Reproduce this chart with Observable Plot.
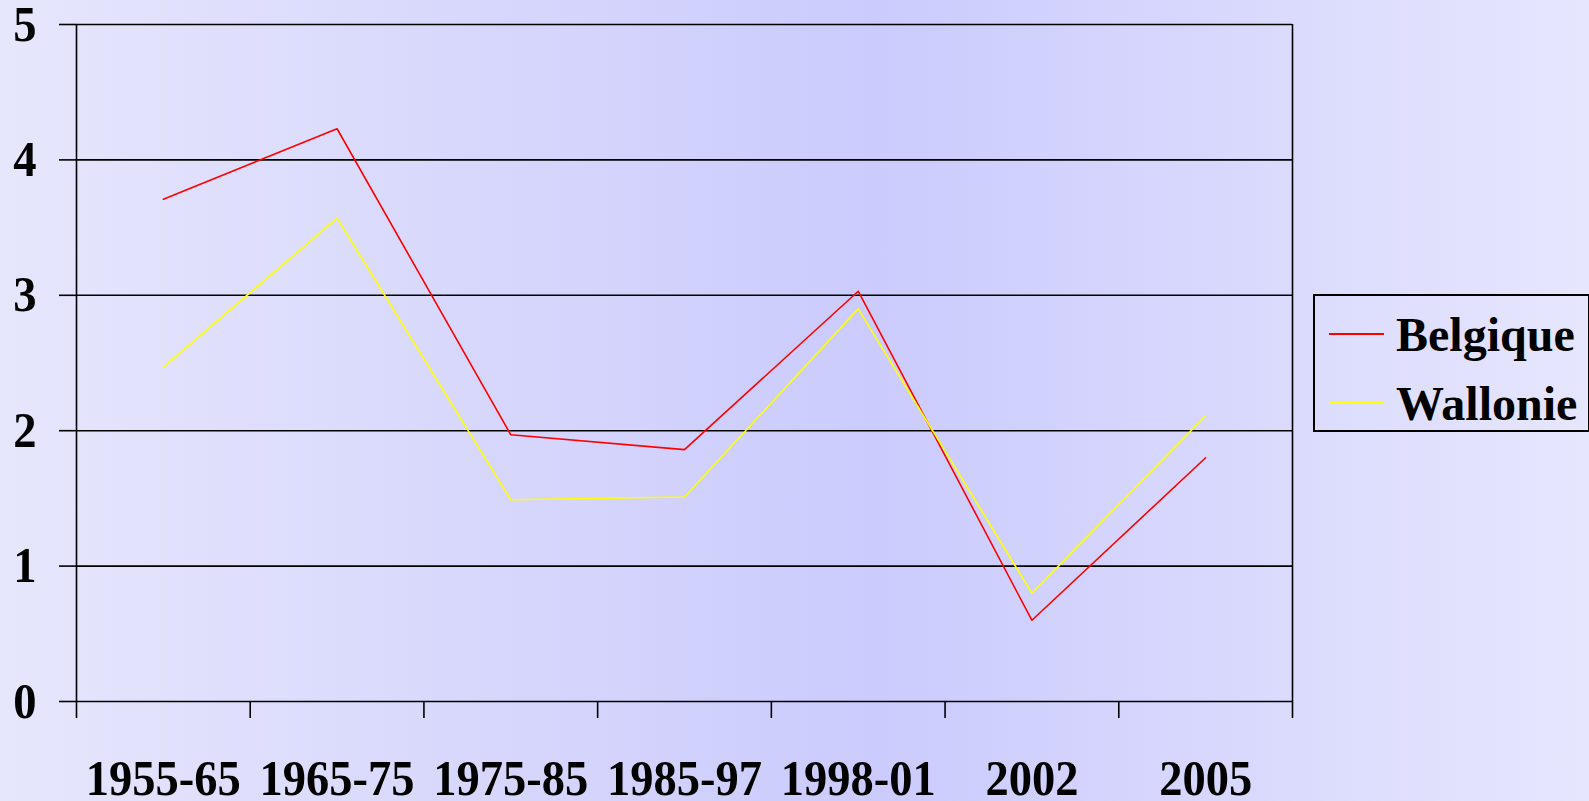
<!DOCTYPE html>
<html>
<head>
<meta charset="utf-8">
<script src="https://cdn.jsdelivr.net/npm/d3@7"></script>
<script src="https://cdn.jsdelivr.net/npm/@observablehq/plot@0.6"></script>
<style>
  html, body { margin: 0; padding: 0; }
  body {
    width: 1589px; height: 801px; overflow: hidden; position: relative;
    background: linear-gradient(to right, #e6e6fc 0%, #cbcbfd 55%, #e6e6fe 100%);
    font-family: "Liberation Serif", "Times New Roman", serif;
  }
  #chart { position: absolute; left: 0; top: 0; }
  #legend {
    position: absolute; left: 1313px; top: 294px; width: 273px; height: 134px;
    border: 2px solid #000; box-sizing: content-box;
    font-weight: bold; font-size: 48px; color: #000;
  }
  .row { position: absolute; left: 0; height: 60px; display: flex; align-items: center; }
  .sw { width: 55px; height: 2px; margin-left: 14px; margin-right: 12px; }
</style>
</head>
<body>
<div id="chart"></div>
<div id="legend"></div>
<script>
const categories = ["1955-65", "1965-75", "1975-85", "1985-97", "1998-01", "2002", "2005"];
const belgique = [3.71, 4.23, 1.97, 1.86, 3.03, 0.60, 1.80];
const wallonie = [2.47, 3.57, 1.49, 1.51, 2.90, 0.80, 2.11];
const yTicks = [0, 1, 2, 3, 4, 5];
const seriesNames = ["Belgique", "Wallonie"];
const seriesColors = ["#ff0000", "#ffff00"];

const seriesValues = [belgique, wallonie];
const rows = seriesNames.flatMap((name, s) =>
  seriesValues[s].map((v, i) => ({series: name, color: seriesColors[s], i, value: v})));
const n = categories.length;
const boundaries = d3.range(n + 1).map(k => k - 0.5);
const indices = d3.range(n);

const plot = Plot.plot({
  width: 1589,
  height: 801,
  marginLeft: 76,
  marginRight: 297,
  marginTop: 24,
  marginBottom: 100,
  x: {type: "linear", domain: [-0.5, n - 0.5]},
  y: {domain: [0, 5]},
  style: {
    background: "transparent",
    fontFamily: '"Liberation Serif", "Times New Roman", serif',
    fontWeight: "bold",
    fontSize: "50px",
    color: "#000"
  },
  marks: [
    Plot.gridY(yTicks, {stroke: "#000", strokeOpacity: 1, strokeWidth: 1.6}),
    Plot.ruleX([-0.5, n - 0.5], {stroke: "#000", strokeWidth: 1.6}),
    Plot.axisY(yTicks, {tickSize: 17, tickPadding: 23, stroke: "#000", strokeWidth: 1.6,
      fontSize: 50, tickFormat: d => String(d), label: null}),
    Plot.axisX(boundaries, {tickSize: 17, stroke: "#000", strokeWidth: 1.6,
      tickFormat: () => "", label: null}),
    Plot.axisX(indices, {tickSize: 0, tickPadding: 58, fontSize: 50,
      tickFormat: i => categories[i], label: null}),
    Plot.line(rows.filter(d => d.series === seriesNames[0]),
      {x: "i", y: "value", stroke: seriesColors[0], strokeWidth: 1.6}),
    Plot.line(rows.filter(d => d.series === seriesNames[1]),
      {x: "i", y: "value", stroke: seriesColors[1], strokeWidth: 1.6})
  ]
});
document.getElementById("chart").appendChild(plot);

// slightly condensed glyphs, as in the reference
plot.querySelectorAll("text").forEach(t => {
  const L = t.getComputedTextLength();
  if (L > 0) {
    t.setAttribute("textLength", (L * 0.93).toFixed(1));
    t.setAttribute("lengthAdjust", "spacingAndGlyphs");
  }
});

const legend = document.getElementById("legend");
seriesNames.forEach((name, s) => {
  const row = document.createElement("div");
  row.className = "row";
  row.style.top = (s === 0 ? 8 : 77) + "px";
  const sw = document.createElement("div");
  sw.className = "sw";
  sw.style.background = seriesColors[s];
  const label = document.createElement("span");
  label.textContent = name;
  row.appendChild(sw);
  row.appendChild(label);
  legend.appendChild(row);
});
</script>
</body>
</html>
